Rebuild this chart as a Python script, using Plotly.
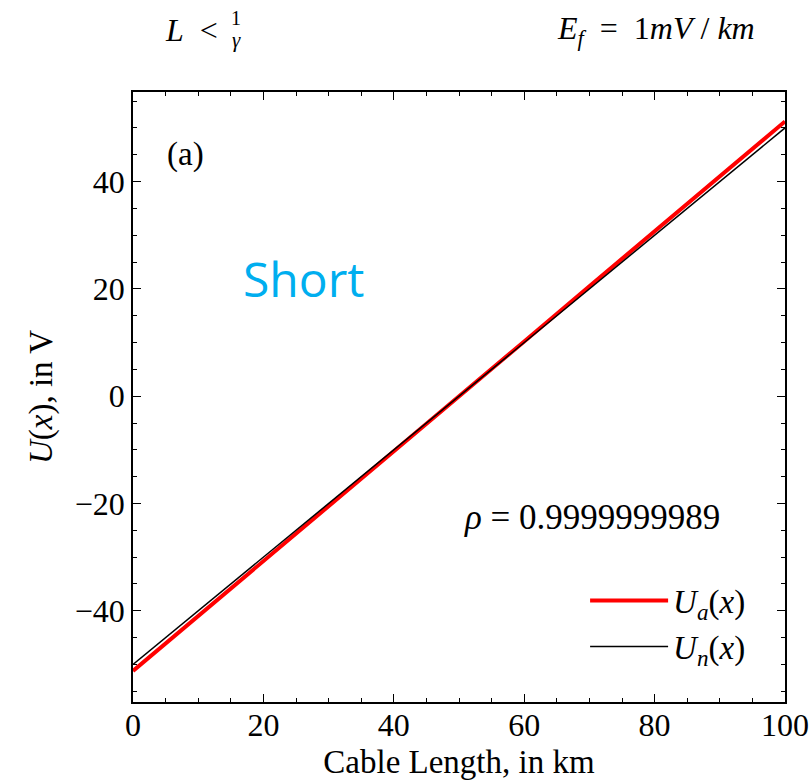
import plotly.graph_objects as go

x_km = [0, 10, 20, 30, 40, 50, 60, 70, 80, 90, 100]
u_a = [-51.2, -41.0, -30.7, -20.5, -10.2, 0.0, 10.2, 20.5, 30.7, 41.0, 51.2]
u_n = [-50.0, -40.0, -30.0, -20.0, -10.0, 0.0, 10.0, 20.0, 30.0, 40.0, 50.0]

SERIF = "Liberation Serif, Times New Roman, serif"

fig = go.Figure()
fig.add_trace(go.Scatter(x=x_km, y=u_a, mode="lines", line=dict(color="#ff0000", width=4),
                         name="<i>U<sub>a</sub></i>(<i>x</i>)"))
fig.add_trace(go.Scatter(x=x_km, y=u_n, mode="lines", line=dict(color="#000000", width=1.5),
                         name="<i>U<sub>n</sub></i>(<i>x</i>)"))

axis_common = dict(
    showgrid=False, zeroline=False, showline=True, linecolor="black", linewidth=1.5,
    mirror="allticks", ticks="inside", ticklen=8, tickwidth=1.3, tickcolor="black",
    tickfont=dict(family=SERIF, size=32, color="black"), automargin=False,
)
fig.update_xaxes(range=[0, 100], dtick=20, tick0=0, ticklabelstandoff=-6,
                 minor=dict(dtick=5, ticks="inside", ticklen=4, tickwidth=1.2, tickcolor="black"),
                 title=dict(text="Cable Length, in km", font=dict(family=SERIF, size=33, color="black"),
                            standoff=8),
                 **axis_common)
fig.update_yaxes(range=[-57, 56.7], dtick=20, tick0=0,
                 minor=dict(dtick=5, ticks="inside", ticklen=4, tickwidth=1.2, tickcolor="black"),
                 title=dict(text="<i>U</i>(<i>x</i>), in V", font=dict(family=SERIF, size=33, color="black"),
                            standoff=12),
                 **axis_common)

fig.add_annotation(x=8, y=45, text="(a)", showarrow=False, xref="x", yref="y",
                   font=dict(family=SERIF, size=33, color="black"))
fig.add_annotation(x=26.2, y=22, text="Short", showarrow=False, xref="x", yref="y",
                   font=dict(family="Open Sans, sans-serif", size=48, color="#00aeef"))
fig.add_annotation(x=70.4, y=-22.7, text="<i>ρ</i> = 0.9999999989", showarrow=False, xref="x", yref="y",
                   font=dict(family=SERIF, size=35, color="black"))

# header texts in paper coordinates
fig.add_annotation(x=0.090, y=1.1016, xref="paper", yref="paper", showarrow=False,
                   xanchor="center", yanchor="middle", text="<i>L</i>  <",
                   font=dict(family=SERIF, size=32, color="black"))
fig.add_annotation(x=0.1585, y=1.122, xref="paper", yref="paper", showarrow=False,
                   xanchor="center", yanchor="middle", text="1",
                   font=dict(family=SERIF, size=20, color="black"))
fig.add_annotation(x=0.1585, y=1.086, xref="paper", yref="paper", showarrow=False,
                   xanchor="center", yanchor="middle", text="<i>γ</i>",
                   font=dict(family=SERIF, size=21, color="black"))
fig.add_annotation(x=0.802, y=1.1016, xref="paper", yref="paper", showarrow=False,
                   xanchor="center", yanchor="middle",
                   text="<i>E<sub>f</sub></i>  =  1<i>mV</i> / <i>km</i>",
                   font=dict(family=SERIF, size=32, color="black"))

fig.update_layout(
    width=811, height=783, autosize=False,
    margin=dict(l=133, r=26, t=92, b=81, autoexpand=False),
    paper_bgcolor="white", plot_bgcolor="white",
    showlegend=True,
    legend=dict(x=0.948, y=0.045, xanchor="right", yanchor="bottom", bgcolor="rgba(0,0,0,0)",
                font=dict(family=SERIF, size=33, color="black"), tracegroupgap=4, itemwidth=78),
)

fig.write_html(
    "out.html",
    config={"displayModeBar": False},
    post_script="document.body.style.margin='0';document.body.style.overflow='hidden';",
)
